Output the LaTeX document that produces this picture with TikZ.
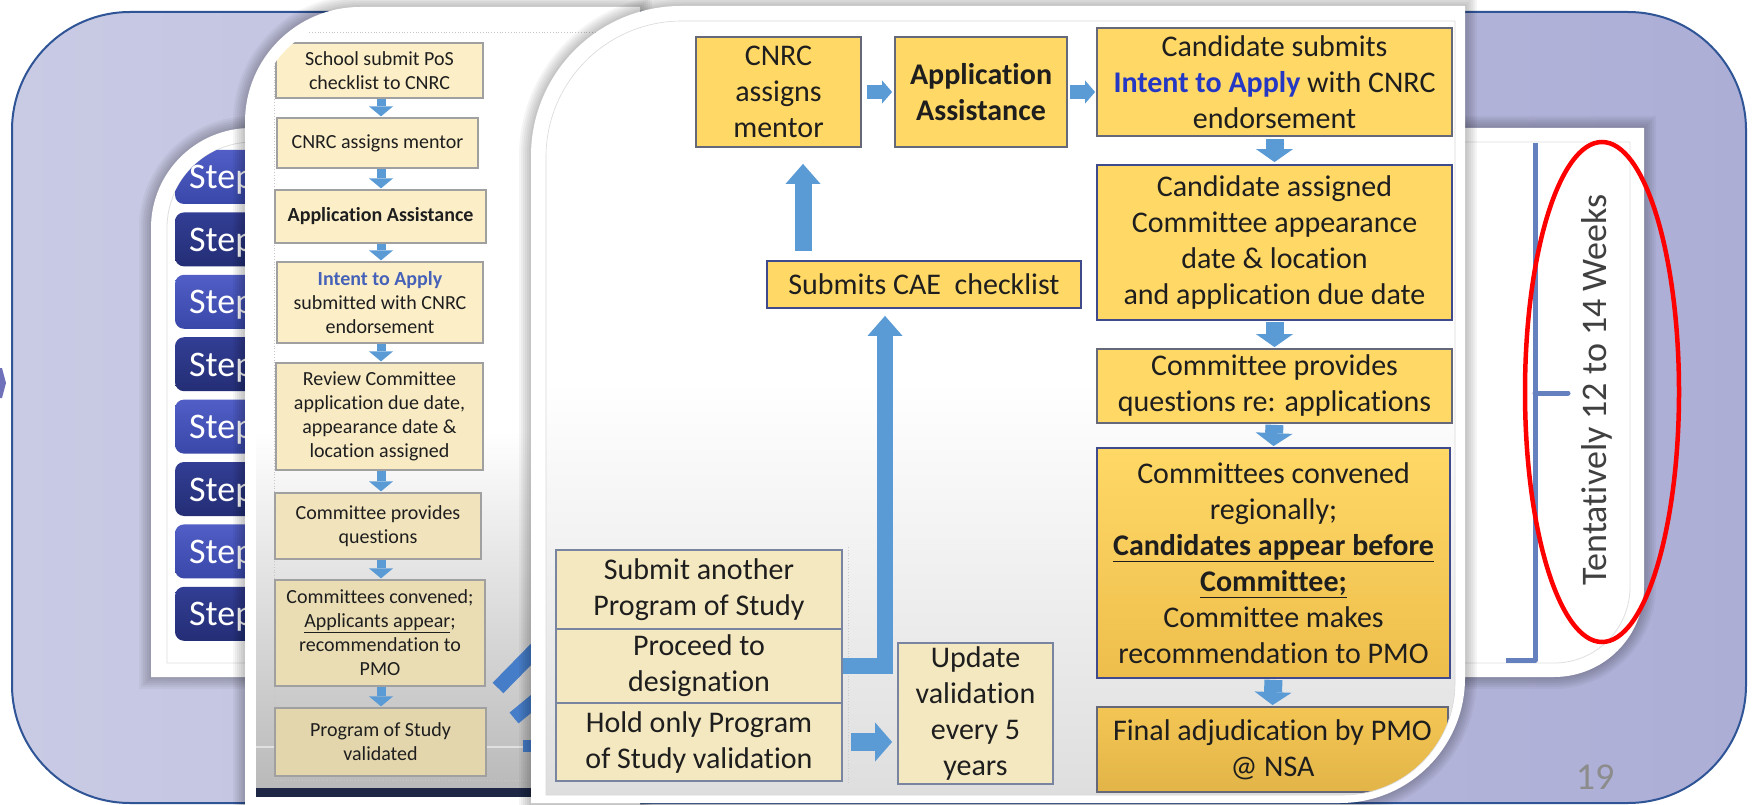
\documentclass[tikz,border=0pt]{standalone}
\usepackage{fontspec}
\setmainfont{Carlito}[Ligatures=NoCommon]
\usetikzlibrary{arrows.meta}
\definecolor{lavL}{RGB}{201,202,228}
\definecolor{lavR}{RGB}{172,174,214}
\definecolor{outerb}{RGB}{47,85,151}
\definecolor{chev}{RGB}{110,112,185}
\definecolor{stepL}{RGB}{80,94,198}
\definecolor{stepLb}{RGB}{58,72,170}
\definecolor{stepD}{RGB}{50,62,148}
\definecolor{stepDb}{RGB}{36,46,118}
\definecolor{bracecol}{RGB}{100,128,190}
\definecolor{weeks}{RGB}{64,64,64}
\definecolor{pgnum}{RGB}{140,140,140}
\definecolor{cyel}{RGB}{255,216,102}
\definecolor{cyelb}{RGB}{238,190,76}
\definecolor{cgray}{RGB}{100,104,120}
\definecolor{cblue}{RGB}{62,74,140}
\definecolor{tanf}{RGB}{244,232,192}
\definecolor{tanb}{RGB}{120,132,160}
\definecolor{bf1}{RGB}{252,239,200}
\definecolor{bf2}{RGB}{248,235,196}
\definecolor{bf3}{RGB}{241,228,188}
\definecolor{bf4}{RGB}{234,221,180}
\definecolor{bf5}{RGB}{227,214,172}
\definecolor{bborder}{RGB}{160,160,160}
\definecolor{abl}{RGB}{91,155,213}
\definecolor{intC}{RGB}{36,56,196}
\definecolor{intB}{RGB}{70,98,184}
\definecolor{txt}{RGB}{30,30,30}
\definecolor{diag}{RGB}{70,125,200}
\definecolor{vbar}{RGB}{30,40,70}
\definecolor{bgb}{RGB}{185,185,185}
\definecolor{cbg}{RGB}{222,222,222}
% panel outline: TL radius #5, BR radius #6, other corners sharp
\newcommand\pshape[6]{({(#1)},{(#2)+(#5)}) .. controls ({(#1)},{(#2)+0.448*(#5)}) and ({(#1)+0.448*(#5)},{(#2)}) .. ({(#1)+(#5)},{(#2)}) -- ({(#3)},{(#2)}) -- ({(#3)},{(#4)-(#6)}) .. controls ({(#3)},{(#4)-0.448*(#6)}) and ({(#3)-0.448*(#6)},{(#4)}) .. ({(#3)-(#6)},{(#4)}) -- ({(#1)},{(#4)}) -- cycle}
\newcommand\pshadow[6]{\foreach \k in {1,...,6}{\fill[black,opacity=0.04] \pshape{#1-2*\k}{#2-2*\k}{#3+2*\k}{#4+2*\k}{#5+2*\k}{#6+2*\k};}}
\begin{document}
\begin{tikzpicture}[x=1pt,y=-1pt,
  cbox/.style={draw=cgray, line width=1.8pt, fill=cyel, inner sep=0pt, align=center, text=txt, font=\fontsize{30}{36}\selectfont},
  cboxb/.style={cbox, draw=cblue},
  gbox/.style={cbox, fill=tanf, draw=tanb},
  bbox/.style={draw=bborder, line width=1.2pt, inner sep=0pt, align=center, text=txt, font=\fontsize{20}{24}\selectfont},
  barrow/.style={draw=abl, line width=18pt, -{Triangle[width=37pt,length=13pt,line width=0pt]}},
  harrow/.style={draw=abl, line width=14pt, -{Triangle[width=23pt,length=10pt,line width=0pt]}},
  uarrow/.style={draw=abl, line width=17pt, -{Triangle[width=35pt,length=20pt,line width=0pt]}},
  sarrow/.style={draw=abl, line width=9pt, -{Triangle[width=24pt,length=10pt,line width=0pt]}},
  steptext/.style={text=white, font=\fontsize{36}{38}\selectfont, inner sep=0pt}
]
\useasboundingbox (0,0) rectangle (1754,805);
\fill[white] (0,0) rectangle (1754,805);
% outer lavender slide
\shade[left color=lavL, right color=lavR, rounded corners=118pt] (12,12) rectangle (1746,803);
\draw[outerb, line width=2pt, rounded corners=118pt] (12,12) rectangle (1746,803);
\fill[chev] (0,368) -- (2,368) -- (6,383) -- (2,398) -- (0,398) -- cycle;

% ---------- panel A (steps) ----------
\pshadow{151}{128}{1644}{677}{100}{90}
\fill[white] \pshape{151}{128}{1644}{677}{100}{90};
\draw[gray!25, line width=0.8pt] \pshape{167}{142}{1630}{663}{86}{76};
\begin{scope}
\clip \pshape{167}{142}{1630}{663}{86}{76};
\foreach \i in {0,...,7}{
  \pgfmathsetmacro\yt{150+62.4*\i}
  \ifodd\i\relax
    \shade[top color=stepD, bottom color=stepDb, rounded corners=9pt] (175,\yt) rectangle (330,\yt+54);
  \else
    \shade[top color=stepL, bottom color=stepLb, rounded corners=9pt] (175,\yt) rectangle (330,\yt+54);
  \fi
  \node[steptext, anchor=base west] (st\i) at (189,\yt+39) {Step};
}
\end{scope}
% brace and duration
\draw[bracecol, line width=5pt, line join=round] (1535,143) -- (1535,660) -- (1506,660);
\draw[bracecol, line width=5pt, line cap=round] (1535,393) -- (1568,393);
\node[rotate=90, anchor=base, text=weeks, font=\fontsize{36}{40}\selectfont, inner sep=0pt] (weeks) at (1606,390) {Tentatively 12 to 14 Weeks};

% ---------- panel B (old flowchart) ----------
\pshadow{245}{7}{640}{830}{115}{0}
\fill[white] \pshape{245}{7}{640}{830}{115}{0};
\begin{scope}
\clip \pshape{256}{19}{640}{797}{104}{0};
\fill[white] (256,19) rectangle (640,797);
\shade[top color=white, bottom color=bgb] (256,430) rectangle (640,790);
\fill[vbar] (256,788) rectangle (640,797);
\draw[gray!45, line width=0.8pt, dotted] (270,32) -- (640,32);
\draw[gray!45, line width=0.8pt, dotted] (274,32) -- (274,780);
\draw[gray!45, line width=0.8pt, dotted] (274,780) -- (640,780);
\draw[white, opacity=0.5, line width=2pt] (256,747) -- (640,747);
\draw[diag, line width=15pt] (498,688) -- (548,637);
\draw[diag, line width=14pt] (514,718) -- (548,690);
\fill[diag] (523,740) rectangle (540,752);
\node[bbox, fill=bf1, minimum width=207pt, minimum height=55pt] (b1) at (379.5,70.5) {School submit PoS\\checklist to CNRC};
\node[bbox, fill=bf1, minimum width=201pt, minimum height=50pt] (b2) at (377.5,143) {CNRC assigns mentor};
\node[bbox, fill=bf1, minimum width=211pt, minimum height=53pt] (b3) at (380.5,216.5) {\textbf{Application Assistance}};
\node[bbox, fill=bf1, minimum width=206pt, minimum height=81pt] (b4) at (380,302.5) {{\color{intB}\textbf{Intent to Apply}}\\submitted with CNRC\\endorsement};
\node[bbox, fill=bf2, minimum width=207pt, minimum height=107pt] (b5) at (379.5,416.5) {Review Committee\\application due date,\\appearance date \&\\location assigned};
\node[bbox, fill=bf3, minimum width=206pt, minimum height=66pt] (b6) at (378,526) {Committee provides\\questions};
\node[bbox, fill=bf4, minimum width=210pt, minimum height=106pt] (b7) at (380,633) {Committees convened;\\\underline{Applicants appear};\\recommendation to\\PMO};
\node[bbox, fill=bf5, minimum width=211pt, minimum height=68pt] (b8) at (380.5,742) {Program of Study\\validated};
\coordinate (pbx) at (381,0);
\foreach \a/\b in {b1/b2,b2/b3,b3/b4,b4/b5,b5/b6,b6/b7,b7/b8}{
  \draw[sarrow, shorten >=1pt] (pbx |- \a.south) -- (pbx |- \b.north);
}
\end{scope}

% ---------- panel C (current flowchart) ----------
\pshadow{531}{6}{1465}{803}{150}{125}
\fill[white] \pshape{531}{6}{1465}{803}{150}{125};
\begin{scope}
\clip \pshape{546}{21}{1455}{795}{136}{112};
\fill[white] (546,21) rectangle (1455,795);
\shade[top color=white, bottom color=cbg] (546,380) rectangle (1455,795);
\draw[gray!40, line width=0.8pt, dotted] (848,547) -- (848,783);
\node[cbox, minimum width=165pt, minimum height=110pt] (cnrc) at (778.5,92) {CNRC\\assigns\\mentor};
\node[cbox, minimum width=172pt, minimum height=110pt] (appa) at (981,92) {\textbf{Application}\\\textbf{Assistance}};
\node[cbox, minimum width=355pt, minimum height=108pt] (cand) at (1274.5,82) {Candidate submits\\{\color{intC}\textbf{Intent to Apply}} with CNRC\\endorsement};
\node[cboxb, minimum width=355pt, minimum height=155pt] (asg) at (1274.5,242.5) {Candidate assigned\\Committee appearance\\date \& location\\and application due date};
\node[cbox, minimum width=355pt, minimum height=74pt] (prov) at (1274.5,386) {Committee provides\\questions re: applications};
\node[cboxb, minimum width=353pt, minimum height=230pt, fill=none, top color=cyel, bottom color=cyelb] (conv) at (1273.5,563) {Committees convened\\regionally;\\\underline{\textbf{Candidates appear before}}\\\underline{\textbf{Committee;}}\\Committee makes\\recommendation to PMO};
\node[cbox, minimum width=351pt, minimum height=85pt, fill=none, top color=cyelb!70!cyel, bottom color=cyelb!95!black] (fin) at (1272.5,749.5) {Final adjudication by PMO\\@ NSA};
\node[cboxb, minimum width=314pt, minimum height=47pt] (cae) at (924,284.5) {Submits CAE\ \ checklist};
\node[gbox, minimum width=286pt, minimum height=79pt] (subm) at (699,589.5) {Submit another\\Program of Study};
\node[gbox, minimum width=286pt, minimum height=74pt] (prop) at (699,666) {Proceed to\\designation};
\node[gbox, minimum width=286pt, minimum height=78pt] (hold) at (699,742) {Hold only Program\\of Study validation};
\node[gbox, minimum width=155pt, minimum height=141pt] (upd) at (975.5,713.5) {Update\\validation\\every 5\\years};
% connectors
\draw[harrow, shorten <=5pt, shorten >=2pt] (cnrc.east) -- (appa.west);
\draw[harrow, shorten <=2pt, shorten >=1pt] (appa.east) -- (appa.east -| cand.west);
\draw[barrow, shorten <=2pt, shorten >=2pt] (cand.south) -- (asg.north);
\draw[barrow, shorten <=1pt, shorten >=1pt] (asg.south) -- (prov.north);
\draw[barrow, shorten <=1pt, shorten >=1pt] (prov.south) -- (conv.north);
\draw[barrow, shorten <=1pt, shorten >=1pt] (conv.south) -- (fin.north);
\coordinate (upx) at (803,0);
\draw[uarrow, shorten <=9pt, shorten >=16pt] (upx |- cae.north) -- (upx |- cnrc.south);
\coordinate (elx) at (885,0);
\draw[uarrow, line width=16pt, shorten >=7pt] (prop.east) -| (elx |- cae.south);
\draw[harrow, line width=18pt, -{Triangle[width=39pt,length=17pt,line width=0pt]}, shorten <=8pt, shorten >=5pt] (hold.east) -- (upd.west |- hold.east);
\end{scope}
\draw[gray!30, line width=0.6pt] \pshape{546}{21}{1455}{795}{136}{112};

% page number and highlight
\node[text=pgnum, font=\fontsize{38}{40}\selectfont, inner sep=0pt] (pg) at (1595,777) {19};
\draw[red, line width=4.5pt] (1602,392) ellipse [x radius=77pt, y radius=250pt];
\end{tikzpicture}
\end{document}
